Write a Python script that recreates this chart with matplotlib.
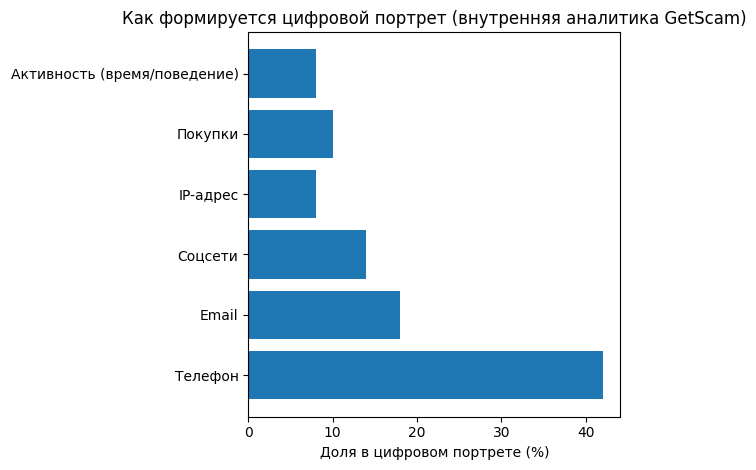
import matplotlib
matplotlib.use("Agg")
import matplotlib.pyplot as plt

categories = ["Телефон", "Email", "Соцсети", "IP-адрес", "Покупки", "Активность (время/поведение)"]
values = [42, 18, 14, 8, 10, 8]

fig = plt.figure(figsize=(7.56, 4.70), dpi=100)
ax = fig.add_axes([248.3/756, 1-416.7/470, (620.3-248.3)/756, (416.7-32)/470])
ax.barh(categories, values, color="#1f77b4")
ax.set_xlabel("Доля в цифровом портрете (%)")
ax.set_title("Как формируется цифровой портрет (внутренняя аналитика GetScam)")
fig.savefig("out.png", dpi=100)
